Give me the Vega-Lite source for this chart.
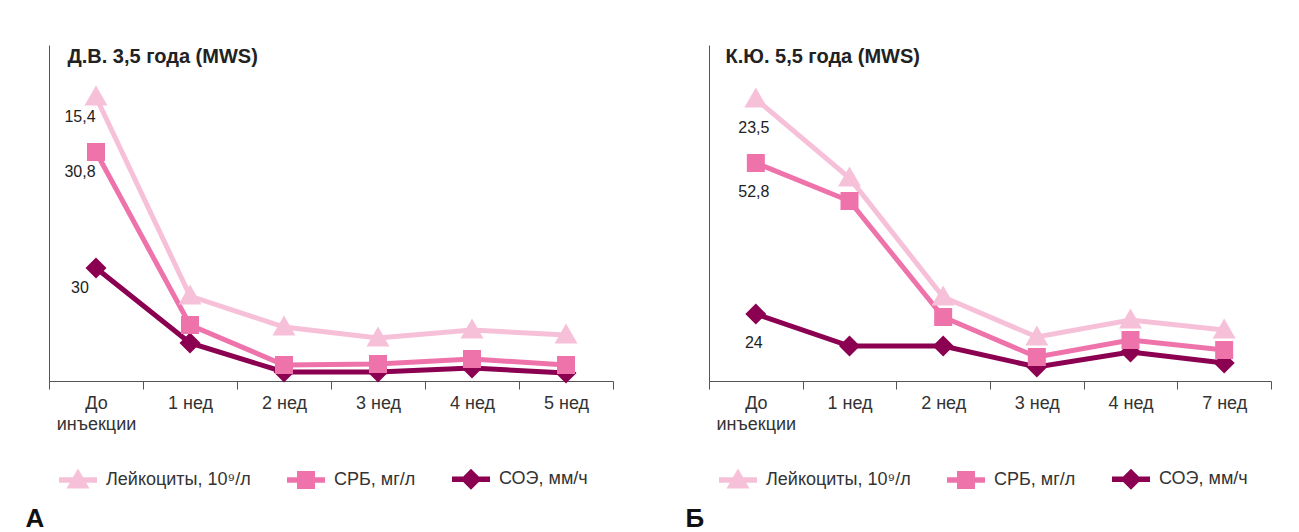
{
  "$schema": "https://vega.github.io/schema/vega-lite/v6.json",
  "background": "white",
  "padding": {"left": 25, "top": 45, "right": 5, "bottom": 0},
  "config": {"view": {"stroke": null}, "font": "Liberation Sans"},
  "datasets": {
    "a": [
      {"s": "СОЭ, мм/ч", "t": "До инъекции", "v": 113, "lab": "30"},
      {"s": "СОЭ, мм/ч", "t": "1 нед", "v": 38, "lab": ""},
      {"s": "СОЭ, мм/ч", "t": "2 нед", "v": 9, "lab": ""},
      {"s": "СОЭ, мм/ч", "t": "3 нед", "v": 9, "lab": ""},
      {"s": "СОЭ, мм/ч", "t": "4 нед", "v": 13, "lab": ""},
      {"s": "СОЭ, мм/ч", "t": "5 нед", "v": 8, "lab": ""},
      {"s": "СРБ, мг/л", "t": "До инъекции", "v": 229, "lab": "30,8"},
      {"s": "СРБ, мг/л", "t": "1 нед", "v": 56, "lab": ""},
      {"s": "СРБ, мг/л", "t": "2 нед", "v": 16, "lab": ""},
      {"s": "СРБ, мг/л", "t": "3 нед", "v": 17, "lab": ""},
      {"s": "СРБ, мг/л", "t": "4 нед", "v": 22, "lab": ""},
      {"s": "СРБ, мг/л", "t": "5 нед", "v": 16, "lab": ""},
      {"s": "Лейкоциты, 10⁹/л", "t": "До инъекции", "v": 284, "lab": "15,4"},
      {"s": "Лейкоциты, 10⁹/л", "t": "1 нед", "v": 85, "lab": ""},
      {"s": "Лейкоциты, 10⁹/л", "t": "2 нед", "v": 54, "lab": ""},
      {"s": "Лейкоциты, 10⁹/л", "t": "3 нед", "v": 43, "lab": ""},
      {"s": "Лейкоциты, 10⁹/л", "t": "4 нед", "v": 51, "lab": ""},
      {"s": "Лейкоциты, 10⁹/л", "t": "5 нед", "v": 46, "lab": ""}
    ],
    "b": [
      {"s": "СОЭ, мм/ч", "t": "До инъекции", "v": 67, "lab": "24"},
      {"s": "СОЭ, мм/ч", "t": "1 нед", "v": 35, "lab": ""},
      {"s": "СОЭ, мм/ч", "t": "2 нед", "v": 35, "lab": ""},
      {"s": "СОЭ, мм/ч", "t": "3 нед", "v": 14, "lab": ""},
      {"s": "СОЭ, мм/ч", "t": "4 нед", "v": 29, "lab": ""},
      {"s": "СОЭ, мм/ч", "t": "7 нед", "v": 18, "lab": ""},
      {"s": "СРБ, мг/л", "t": "До инъекции", "v": 218, "lab": "52,8"},
      {"s": "СРБ, мг/л", "t": "1 нед", "v": 180, "lab": ""},
      {"s": "СРБ, мг/л", "t": "2 нед", "v": 64, "lab": ""},
      {"s": "СРБ, мг/л", "t": "3 нед", "v": 24, "lab": ""},
      {"s": "СРБ, мг/л", "t": "4 нед", "v": 41, "lab": ""},
      {"s": "СРБ, мг/л", "t": "7 нед", "v": 31, "lab": ""},
      {"s": "Лейкоциты, 10⁹/л", "t": "До инъекции", "v": 282, "lab": "23,5"},
      {"s": "Лейкоциты, 10⁹/л", "t": "1 нед", "v": 203, "lab": ""},
      {"s": "Лейкоциты, 10⁹/л", "t": "2 нед", "v": 84, "lab": ""},
      {"s": "Лейкоциты, 10⁹/л", "t": "3 нед", "v": 44, "lab": ""},
      {"s": "Лейкоциты, 10⁹/л", "t": "4 нед", "v": 61, "lab": ""},
      {"s": "Лейкоциты, 10⁹/л", "t": "7 нед", "v": 51, "lab": ""}
    ]
  },
  "spacing": 96,
  "bounds": "flush",
  "resolve": {"scale": {"color": "independent", "x": "independent", "y": "independent"}, "legend": {"color": "independent"}},
  "hconcat": [
    {
      "width": 564, "height": 336,
      "data": {"name": "a"},
      "title": {"text": "А", "orient": "bottom", "anchor": "start", "dx": -23, "fontSize": 26, "fontWeight": "bold", "color": "#111", "offset": 16},
      "encoding": {
        "x": {"field": "t", "type": "nominal", "sort": null, "scale": {"type": "band", "paddingInner": 0, "paddingOuter": 0},
          "axis": {"title": null, "tickBand": "extent", "tickSize": 8, "labelAngle": 0, "labelFontSize": 18, "labelPadding": 5, "labelColor": "#333", "domainColor": "#555", "tickColor": "#555", "labelLineHeight": 21, "labelExpr": "datum.value == 'До инъекции' ? ['До', 'инъекции'] : datum.value"}},
        "y": {"field": "v", "type": "quantitative", "scale": {"domain": [0, 336], "nice": false},
          "axis": {"title": "Д.В. 3,5 года (MWS)", "labels": false, "ticks": false, "grid": false, "domainColor": "#555", "titleAngle": 0, "titleAlign": "left", "titleBaseline": "alphabetic", "titleX": 18, "titleY": 17, "titleFontSize": 20, "titleFontWeight": "bold", "titleColor": "#222"}},
        "color": {"field": "s", "type": "nominal", "scale": {"domain": ["Лейкоциты, 10⁹/л", "СРБ, мг/л", "СОЭ, мм/ч"], "range": ["#f7c0d9", "#ef73ab", "#8b0050"]},
          "legend": {"orient": "none", "legendX": 10, "legendY": 424, "direction": "horizontal", "title": null, "padding": 0,
            "symbolSize": 400, "symbolStrokeWidth": 0, "symbolOffset": 9, "labelOffset": 18, "columnPadding": 36,
            "labelFontSize": 18, "labelColor": "#333", "labelLimit": 0,
            "encoding": {"symbols": {
              "shape": {"value": {"expr": "datum.value === 'СРБ, мг/л' ? 'M-1.9,-0.28H1.9V0.28H-1.9Z M-0.9,-0.9H0.9V0.9H-0.9Z' : datum.value === 'СОЭ, мм/ч' ? 'M-1.9,-0.28H1.9V0.28H-1.9Z M0,-1.05L1.05,0L0,1.05L-1.05,0Z' : 'M-1.9,-0.28H1.9V0.28H-1.9Z M-1.15,0.85L0,-1.15L1.15,0.85Z'"}},
              "fill": {"value": {"expr": "datum.value === 'СРБ, мг/л' ? '#ef73ab' : datum.value === 'СОЭ, мм/ч' ? '#8b0050' : '#f7c0d9'"}},
              "size": {"value": 400},
              "strokeWidth": {"value": 0},
              "opacity": {"value": 1}
            }}}}
      },
      "layer": [
        {"mark": {"type": "line", "strokeWidth": 5}},
        {"transform": [{"filter": "datum.s === 'СОЭ, мм/ч'"}],
         "mark": {"type": "point", "filled": true, "size": 400, "opacity": 1, "shape": "M0,-1.05L1.05,0L0,1.05L-1.05,0Z"}},
        {"transform": [{"filter": "datum.s === 'СРБ, мг/л'"}],
         "mark": {"type": "point", "filled": true, "size": 400, "opacity": 1, "shape": "M-0.9,-0.9H0.9V0.9H-0.9Z"}},
        {"transform": [{"filter": "datum.s === 'Лейкоциты, 10⁹/л'"}],
         "mark": {"type": "point", "filled": true, "size": 400, "opacity": 1, "shape": "M-1.15,0.85L0,-1.15L1.15,0.85Z"}},
        {
          "mark": {"type": "text", "dx": -16, "dy": 20, "fontSize": 16, "color": "#222"},
          "encoding": {"text": {"field": "lab"}, "color": {"value": "#222"}}
        }
      ]
    },
    {
      "width": 562, "height": 336,
      "data": {"name": "b"},
      "title": {"text": "Б", "orient": "bottom", "anchor": "start", "dx": -23, "fontSize": 26, "fontWeight": "bold", "color": "#111", "offset": 16},
      "encoding": {
        "x": {"field": "t", "type": "nominal", "sort": null, "scale": {"type": "band", "paddingInner": 0, "paddingOuter": 0},
          "axis": {"title": null, "tickBand": "extent", "tickSize": 8, "labelAngle": 0, "labelFontSize": 18, "labelPadding": 5, "labelColor": "#333", "domainColor": "#555", "tickColor": "#555", "labelLineHeight": 21, "labelExpr": "datum.value == 'До инъекции' ? ['До', 'инъекции'] : datum.value"}},
        "y": {"field": "v", "type": "quantitative", "scale": {"domain": [0, 336], "nice": false},
          "axis": {"title": "К.Ю. 5,5 года (MWS)", "labels": false, "ticks": false, "grid": false, "domainColor": "#555", "titleAngle": 0, "titleAlign": "left", "titleBaseline": "alphabetic", "titleX": 16, "titleY": 17, "titleFontSize": 20, "titleFontWeight": "bold", "titleColor": "#222"}},
        "color": {"field": "s", "type": "nominal", "scale": {"domain": ["Лейкоциты, 10⁹/л", "СРБ, мг/л", "СОЭ, мм/ч"], "range": ["#f7c0d9", "#ef73ab", "#8b0050"]},
          "legend": {"orient": "none", "legendX": 10, "legendY": 424, "direction": "horizontal", "title": null, "padding": 0,
            "symbolSize": 400, "symbolStrokeWidth": 0, "symbolOffset": 9, "labelOffset": 18, "columnPadding": 36,
            "labelFontSize": 18, "labelColor": "#333", "labelLimit": 0,
            "encoding": {"symbols": {
              "shape": {"value": {"expr": "datum.value === 'СРБ, мг/л' ? 'M-1.9,-0.28H1.9V0.28H-1.9Z M-0.9,-0.9H0.9V0.9H-0.9Z' : datum.value === 'СОЭ, мм/ч' ? 'M-1.9,-0.28H1.9V0.28H-1.9Z M0,-1.05L1.05,0L0,1.05L-1.05,0Z' : 'M-1.9,-0.28H1.9V0.28H-1.9Z M-1.15,0.85L0,-1.15L1.15,0.85Z'"}},
              "fill": {"value": {"expr": "datum.value === 'СРБ, мг/л' ? '#ef73ab' : datum.value === 'СОЭ, мм/ч' ? '#8b0050' : '#f7c0d9'"}},
              "size": {"value": 400},
              "strokeWidth": {"value": 0},
              "opacity": {"value": 1}
            }}}}
      },
      "layer": [
        {"mark": {"type": "line", "strokeWidth": 5}},
        {"transform": [{"filter": "datum.s === 'СОЭ, мм/ч'"}],
         "mark": {"type": "point", "filled": true, "size": 400, "opacity": 1, "shape": "M0,-1.05L1.05,0L0,1.05L-1.05,0Z"}},
        {"transform": [{"filter": "datum.s === 'СРБ, мг/л'"}],
         "mark": {"type": "point", "filled": true, "size": 400, "opacity": 1, "shape": "M-0.9,-0.9H0.9V0.9H-0.9Z"}},
        {"transform": [{"filter": "datum.s === 'Лейкоциты, 10⁹/л'"}],
         "mark": {"type": "point", "filled": true, "size": 400, "opacity": 1, "shape": "M-1.15,0.85L0,-1.15L1.15,0.85Z"}},
        {
          "mark": {"type": "text", "dx": -2, "dy": 29, "fontSize": 16, "color": "#222"},
          "encoding": {"text": {"field": "lab"}, "color": {"value": "#222"}}
        }
      ]
    }
  ]
}
